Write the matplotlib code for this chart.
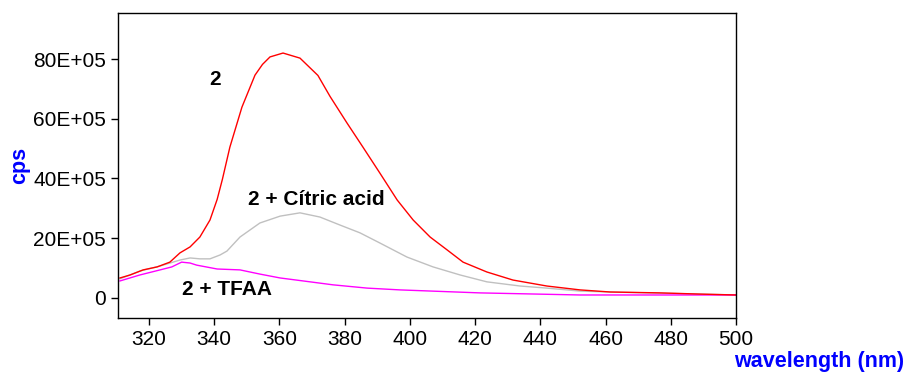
import matplotlib
matplotlib.use("Agg")
import matplotlib.pyplot as plt
from matplotlib.ticker import FuncFormatter

plt.rcParams['font.family'] = ['Liberation Sans', 'DejaVu Sans']

# intensities in units of 1E+05 cps
wl_red = [311.1, 314.2, 318.2, 322.5, 326.4, 329.5, 332.6, 335.6, 338.7, 340.9,
          342.5, 344.8, 348.5, 352.5, 354.8, 357.1, 361.1, 366.3, 371.8, 375.5,
          380.7, 385.6, 390.8, 396.1, 401.0, 406.2, 411.4, 416.3, 423.6, 431.6,
          442.0, 452.2, 461.4, 476.7, 489.0, 500.0]
cps_red = [6.7, 7.7, 9.4, 10.4, 12.0, 15.1, 17.1, 20.4, 26.1, 33.0,
           39.7, 50.5, 63.9, 74.6, 78.2, 80.7, 82.0, 80.3, 74.5, 67.5,
           58.6, 50.5, 41.8, 32.8, 26.1, 20.4, 16.1, 12.0, 8.7, 6.0,
           4.0, 2.7, 2.0, 1.7, 1.3, 1.0]

wl_grey = [311.1, 317.2, 323.4, 329.5, 332.6, 335.6, 338.7, 341.8, 343.9, 347.9,
           354.0, 360.2, 366.3, 372.4, 378.6, 384.7, 390.8, 399.1, 407.1, 415.4,
           423.6, 433.8, 442.0, 452.2, 461.4, 476.7, 489.0, 500.0]
cps_grey = [6.4, 9.0, 10.7, 12.7, 13.4, 13.1, 13.1, 14.4, 15.7, 20.4,
            25.1, 27.4, 28.5, 27.1, 24.4, 21.8, 18.4, 13.7, 10.4, 7.7,
            5.4, 4.0, 3.3, 2.3, 2.0, 1.6, 1.3, 1.0]

wl_mag = [311.1, 317.2, 323.4, 327.0, 330.0, 332.6, 334.6, 340.9, 347.9, 354.0,
          360.2, 369.4, 376.4, 386.9, 397.0, 421.5, 452.2, 500.0]
cps_mag = [5.7, 7.7, 9.4, 10.4, 12.0, 11.7, 11.0, 9.7, 9.4, 8.0,
           6.7, 5.4, 4.4, 3.3, 2.7, 1.7, 1.0, 1.0]

fig = plt.figure(figsize=(9.05, 3.72), dpi=100)
ax = fig.add_axes([0.1304, 0.1452, 0.6829, 0.8198])

ax.plot(wl_grey, cps_grey, color='#c0c0c0', lw=1)
ax.plot(wl_mag, cps_mag, color='#ff00ff', lw=1)
ax.plot(wl_red, cps_red, color='#ff0000', lw=1)

ax.set_xlim(310.5, 500)
ax.set_ylim(-6.7, 95.4)
ax.set_xticks(range(320, 501, 20))
ax.set_yticks(range(0, 81, 20))
ax.yaxis.set_major_formatter(FuncFormatter(lambda v, p: '0' if v == 0 else f'{int(v)}E+05'))
ax.tick_params(labelsize=15, length=5, width=1, direction='out', colors='black')
for s in ax.spines.values():
    s.set_linewidth(1)

ax.text(340.2, 73, '2', fontsize=15, fontweight='bold', ha='center', va='center')
ax.text(371.2, 33.0, '2 + Cítric acid', fontsize=15, fontweight='bold', ha='center', va='center')
ax.text(343.8, 2.7, '2 + TFAA', fontsize=15, fontweight='bold', ha='center', va='center')

fig.text(0.022, 0.555, 'cps', color='blue', fontsize=15.5, fontweight='bold',
         rotation=90, ha='center', va='center')
fig.text(0.999, 0.027, 'wavelength (nm)', color='blue', fontsize=15.5, fontweight='bold',
         ha='right', va='center')

fig.savefig('out.png', dpi=100)
